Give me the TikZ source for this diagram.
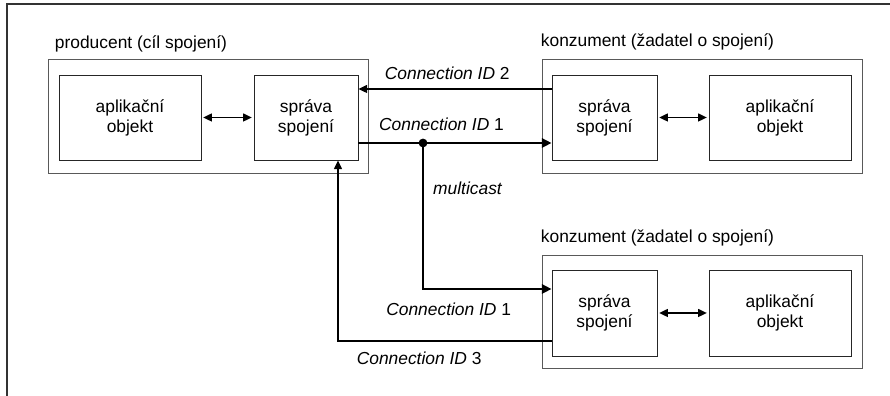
\documentclass[tikz,border=0pt]{standalone}
\usepackage{fontspec}
\setmainfont{Liberation Sans}
\usetikzlibrary{calc, arrows.meta}

\tikzset{
  ramec/.style={draw=black!65, line width=0.5pt, minimum width=6.4cm, minimum height=2.28cm},
  blok/.style={draw=black!85, line width=0.5pt, minimum height=1.7cm, align=center, font=\fontsize{9.9}{11.4}\selectfont},
  popis/.style={font=\fontsize{9.9}{11.8}\selectfont, inner sep=0pt},
  sipka/.style={line width=0.7pt, -{Triangle[length=5pt,width=4.6pt]}},
  obousm/.style={line width=0.7pt, {Triangle[length=5pt,width=4.6pt]}-{Triangle[length=5pt,width=4.6pt]}, shorten <=1pt, shorten >=1pt},
  tlusta/.style={line width=1.6pt, -{Triangle[length=5.5pt,width=5.2pt]}}
}

\begin{document}
\begin{tikzpicture}
    \useasboundingbox (0,0) rectangle (17.8,7.92);
    % frame
    \draw[line width=1pt, black!80] (0.14,0)--(0.14,7.84)--(17.8,7.84);

    % producent
    \node[ramec] (prod) at (4.16,5.6) {};
    \node[popis, anchor=base west] at ($(prod.north west)+(0.14,0.2)$) {producent (cíl spojení)};
    \node[blok, minimum width=2.84cm] (papl) at (2.6,5.57) {aplikační\\objekt};
    \node[blok, minimum width=2.08cm] (pspr) at (6.12,5.57) {správa\\spojení};

    % konzument 1
    \node[ramec] (kon1) at (14.04,5.6) {};
    \node[popis, anchor=base west] at ($(kon1.north west)+(-0.02,0.24)$) {konzument (žadatel o spojení)};
    \node[blok, minimum width=2.1cm] (k1spr) at (12.09,5.57) {správa\\spojení};
    \node[blok, minimum width=2.84cm] (k1apl) at (15.6,5.57) {aplikační\\objekt};

    % konzument 2
    \node[ramec, minimum height=2.26cm] (kon2) at (14.04,1.69) {};
    \node[popis, anchor=base west] at ($(kon2.north west)+(-0.02,0.24)$) {konzument (žadatel o spojení)};
    \node[blok, minimum width=2.1cm, minimum height=1.72cm] (k2spr) at (12.09,1.66) {správa\\spojení};
    \node[blok, minimum width=2.84cm, minimum height=1.72cm] (k2apl) at (15.6,1.66) {aplikační\\objekt};

    % vazby uvnitr uzlu
    \draw[obousm] (papl) -- (pspr);
    \draw[obousm] (k1spr) -- (k1apl);
    \draw[obousm] (k2spr) -- (k2apl);

    % pomocne body
    \coordinate (odb) at (8.46,5.06);
    \coordinate (k2vstup) at ([yshift=0.48cm]k2spr.west);
    \coordinate (k2vystup) at ([yshift=-0.56cm]k2spr.west);
    \coordinate (pvstup) at ([xshift=0.64cm]pspr.south);

    % Connection ID 2
    \draw[sipka] ([yshift=0.57cm]k1spr.west) -- node[popis, above=5pt, pos=0.54] {\textit{Connection ID} 2} ([yshift=0.57cm]pspr.east);

    % Connection ID 1 + multicast
    \draw[tlusta] ([yshift=-0.51cm]pspr.east) -- node[popis, above=6pt, pos=0.43] {\textit{Connection ID} 1} ([yshift=-0.51cm]k1spr.west);
    \draw[tlusta] (odb) -- node[popis, right=5pt, pos=0.31] {\textit{multicast}} (odb |- k2vstup) -- node[popis, below=7pt, pos=0.2] {\textit{Connection ID} 1} (k2vstup);
    \fill (odb) circle (2.5pt);

    % Connection ID 3
    \draw[sipka] (k2vystup) -- node[popis, below=6pt, pos=0.62] {\textit{Connection ID} 3} (pvstup |- k2vystup) -- (pvstup);
\end{tikzpicture}
\end{document}
